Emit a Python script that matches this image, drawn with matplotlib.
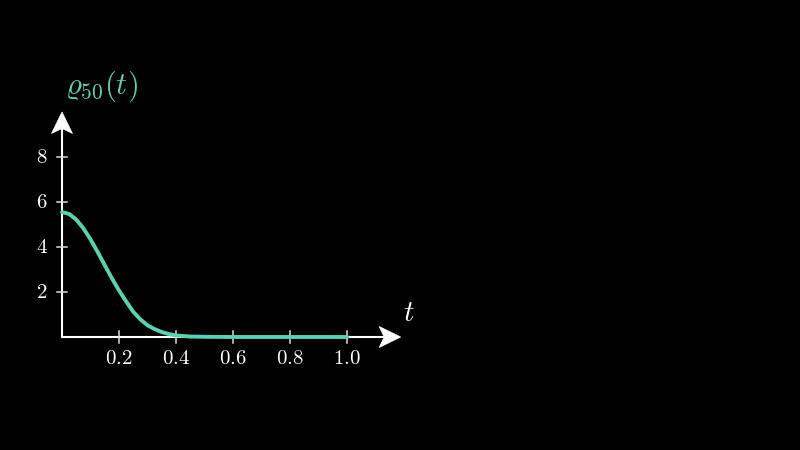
import matplotlib
matplotlib.use('Agg')
import matplotlib.pyplot as plt
from matplotlib.patches import Polygon
from matplotlib.transforms import IdentityTransform

plt.rcParams['mathtext.fontset'] = 'cm'

# values
t_vals = [0.0, 0.025, 0.05, 0.075, 0.1, 0.125, 0.15, 0.175, 0.2, 0.225,
          0.25, 0.275, 0.3, 0.325, 0.35, 0.375, 0.4, 0.45, 0.5, 0.6, 0.7, 0.8, 0.9, 1.0]
rho_vals = [5.55, 5.47, 5.22, 4.83, 4.34, 3.78, 3.19, 2.61, 2.07, 1.58,
            1.12, 0.78, 0.52, 0.35, 0.22, 0.13, 0.07, 0.02, 0.01, 0.0, 0.0, 0.0, 0.0, 0.0]
x_ticks = [0.2, 0.4, 0.6, 0.8, 1.0]
x_labels = ['0.2', '0.4', '0.6', '0.8', '1.0']
y_ticks = [2, 4, 6, 8]
y_labels = ['2', '4', '6', '8']

teal = '#5CD0B3'
xmax, ymax = 1.188, 10.0

fig = plt.figure(figsize=(8, 4.5), dpi=100, facecolor='black')
ax = fig.add_axes([62 / 800, 113 / 450, (400.7 - 62) / 800, 225 / 450])
ax.set_facecolor('black')
ax.set_xlim(0, xmax)
ax.set_ylim(0, ymax)
ax.axis('off')


def arrow_head(tip, direction):
    # notched arrow head, sizes in pixels
    tx, ty = fig.transFigure.inverted().transform(ax.transData.transform(tip))
    tx, ty = tx * 800, ty * 450
    L, W, N = 21.5, 10.5, 16.5
    if direction == 'x':
        pts = [(tx, ty), (tx - L, ty + W), (tx - N, ty), (tx - L, ty - W)]
    else:
        pts = [(tx, ty), (tx - W, ty - L), (tx, ty - N), (tx + W, ty - L)]
    fig.patches.append(Polygon(pts, closed=True, facecolor='white', edgecolor='white',
                               lw=0.5, transform=IdentityTransform(), figure=fig))
    return N


n = arrow_head((xmax, 0), 'x')
arrow_head((0, ymax), 'y')
ax.plot([0, xmax - n / 285], [0, 0], color='white', lw=1.5, clip_on=False)
ax.plot([0, 0], [0, ymax - n / 22.5], color='white', lw=1.5, clip_on=False)

# ticks
for x, lab in zip(x_ticks, x_labels):
    ax.plot([x, x], [-0.25, 0.25], color='#dddddd', lw=1.1, clip_on=False)
    ax.text(x, -0.95, '$' + lab + '$', color='white', fontsize=15,
            ha='center', va='center')
for y, lab in zip(y_ticks, y_labels):
    ax.plot([-0.019, 0.019], [y, y], color='#dddddd', lw=1.1, clip_on=False)
    ax.text(-0.072, y, '$' + lab + '$', color='white', fontsize=15,
            ha='center', va='center')

ax.plot(t_vals, rho_vals, color=teal, lw=2.8, solid_capstyle='round', clip_on=False)

ax.text(0.137, 11.15, r'$\varrho_{50}(t)$', color=teal, fontsize=22,
        ha='center', va='center')
ax.text(1.218, 1.05, r'$t$', color='white', fontsize=21, ha='center', va='center')

fig.savefig('out.png', dpi=100, facecolor='black')
